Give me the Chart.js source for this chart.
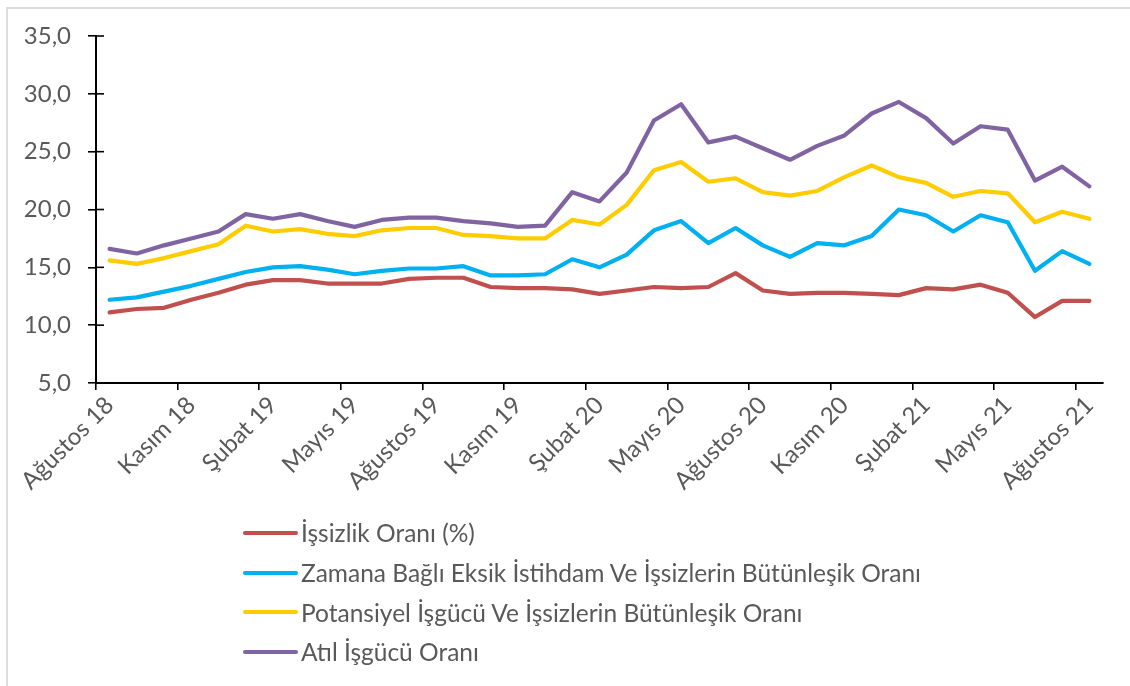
<!DOCTYPE html>
<html>
<head>
<meta charset="utf-8">
<script src="https://cdn.jsdelivr.net/npm/chart.js@4"></script>
<style>
  html, body { margin:0; padding:0; background:#fff; }
  #wrap { position:relative; width:1130px; height:686px; overflow:hidden; }
  #frame { position:absolute; left:6px; top:7px; right:-10px; bottom:-10px; border-top:2px solid #dcdcdc; border-left:2px solid #dcdcdc; }
  canvas { position:absolute; left:0; top:0; }
  #legend { position:absolute; left:243px; top:513px; font-family:Lato, "Noto Sans", sans-serif; font-size:24.5px; color:#595959; }
  .row { height:39.7px; display:flex; align-items:center; white-space:nowrap; }
  .swatch { display:inline-block; width:55px; height:4px; border-radius:2px; margin-right:3px; }
</style>
</head>
<body>
<div id="wrap">
  <div id="frame"></div>
  <canvas id="c" width="1130" height="686"></canvas>
  <div id="legend"></div>
</div>
<script>
const categories = ["Ağustos 18","Eylül 18","Ekim 18","Kasım 18","Aralık 18","Ocak 19","Şubat 19","Mart 19","Nisan 19","Mayıs 19","Haziran 19","Temmuz 19","Ağustos 19","Eylül 19","Ekim 19","Kasım 19","Aralık 19","Ocak 20","Şubat 20","Mart 20","Nisan 20","Mayıs 20","Haziran 20","Temmuz 20","Ağustos 20","Eylül 20","Ekim 20","Kasım 20","Aralık 20","Ocak 21","Şubat 21","Mart 21","Nisan 21","Mayıs 21","Haziran 21","Temmuz 21","Ağustos 21"];
const seriesNames = ["İşsizlik Oranı (%)","Zamana Bağlı Eksik İstihdam Ve İşsizlerin Bütünleşik Oranı","Potansiyel İşgücü Ve İşsizlerin Bütünleşik Oranı","Atıl İşgücü Oranı"];
const issizlik = [11.1,11.4,11.5,12.2,12.8,13.5,13.9,13.9,13.6,13.6,13.6,14.0,14.1,14.1,13.3,13.2,13.2,13.1,12.7,13.0,13.3,13.2,13.3,14.5,13.0,12.7,12.8,12.8,12.7,12.6,13.2,13.1,13.5,12.8,10.7,12.1,12.1];
const zamanaBagli = [12.2,12.4,12.9,13.4,14.0,14.6,15.0,15.1,14.8,14.4,14.7,14.9,14.9,15.1,14.3,14.3,14.4,15.7,15.0,16.1,18.2,19.0,17.1,18.4,16.9,15.9,17.1,16.9,17.7,20.0,19.5,18.1,19.5,18.9,14.7,16.4,15.3];
const potansiyel = [15.6,15.3,15.8,16.4,17.0,18.6,18.1,18.3,17.9,17.7,18.2,18.4,18.4,17.8,17.7,17.5,17.5,19.1,18.7,20.4,23.4,24.1,22.4,22.7,21.5,21.2,21.6,22.8,23.8,22.8,22.3,21.1,21.6,21.4,18.9,19.8,19.2];
const atil = [16.6,16.2,16.9,17.5,18.1,19.6,19.2,19.6,19.0,18.5,19.1,19.3,19.3,19.0,18.8,18.5,18.6,21.5,20.7,23.2,27.7,29.1,25.8,26.3,25.3,24.3,25.5,26.4,28.3,29.3,27.9,25.7,27.2,26.9,22.5,23.7,22.0];
const colors = ["#C0504D","#00B0F0","#FFCC00","#8064A2"];
const yMin = 5, yMax = 35, yStep = 5;

const allSeries = [issizlik, zamanaBagli, potansiyel, atil];
const datasets = allSeries.map((d, i) => ({
  label: seriesNames[i], data: d, borderColor: colors[i], backgroundColor: colors[i],
  borderWidth: 4.2, pointRadius: 0, tension: 0, borderCapStyle: 'round', borderJoinStyle: 'round', fill: false
}));

const innerTicks = {
  id: 'innerTicks',
  afterDraw(chart) {
    const y = chart.scales.y, ctx = chart.ctx;
    ctx.save();
    ctx.strokeStyle = '#000'; ctx.lineWidth = 1.6;
    y.ticks.forEach((t, i) => {
      const py = y.getPixelForTick(i);
      ctx.beginPath(); ctx.moveTo(y.right, py); ctx.lineTo(y.right + 8, py); ctx.stroke();
    });
    ctx.restore();
  }
};

const chart = new Chart(document.getElementById('c'), {
  type: 'line',
  data: { labels: categories, datasets },
  plugins: [innerTicks],
  options: {
    responsive: false, animation: false, devicePixelRatio: 1,
    layout: { padding: { top: 36, right: 27, left: 0, bottom: 0 } },
    plugins: { legend: { display: false }, tooltip: { enabled: false } },
    scales: {
      x: {
        offset: true,
        afterFit(s) { s.height = 303; },
        grid: { offset: true, drawOnChartArea: false, drawTicks: true, tickLength: 7, lineWidth: 1.6,
                color: (c) => (c.tick && c.index % 3 === 0) ? '#000' : 'rgba(0,0,0,0)' },
        border: { color: '#000', width: 2 },
        ticks: { autoSkip: false, minRotation: 45, maxRotation: 45, padding: 1, color: '#595959',
                 font: { family: 'Lato', size: 24 },
                 callback: function(v, i) { return i % 3 === 0 ? categories[i] : ''; } }
      },
      y: {
        min: yMin, max: yMax,
        afterFit(s) { s.width = 96; },
        grid: { drawOnChartArea: false, drawTicks: true, tickLength: 8, color: '#000', lineWidth: 1.6 },
        border: { color: '#000', width: 2 },
        ticks: { stepSize: yStep, padding: 17, color: '#595959', font: { family: 'Lato', size: 24 },
                 callback: (v) => v.toFixed(1).replace('.', ',') }
      }
    }
  }
});

const leg = document.getElementById('legend');
chart.data.datasets.forEach(ds => {
  const row = document.createElement('div'); row.className = 'row';
  const sw = document.createElement('span'); sw.className = 'swatch'; sw.style.background = ds.borderColor;
  const tx = document.createElement('span'); tx.textContent = ds.label;
  row.appendChild(sw); row.appendChild(tx); leg.appendChild(row);
});
</script>
</body>
</html>
